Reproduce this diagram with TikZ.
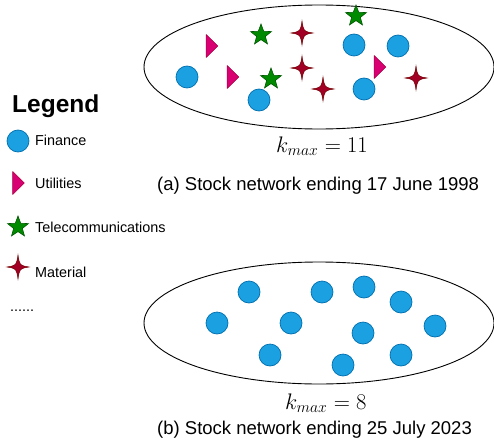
\RequirePackage{fix-cm}
\documentclass[tikz,border=0pt]{standalone}
\usepackage{fontspec}
\setmainfont{Liberation Sans}
\definecolor{finfill}{HTML}{1BA1E2}
\definecolor{finedge}{HTML}{006EAF}
\definecolor{utilfill}{HTML}{D80073}
\definecolor{utiledge}{HTML}{A50040}
\definecolor{telefill}{HTML}{008A00}
\definecolor{teleedge}{HTML}{005700}
\definecolor{matfill}{HTML}{A20025}
\definecolor{matedge}{HTML}{6F0000}
\begin{document}
\begin{tikzpicture}[x=1pt,y=-1pt,
  every node/.style={inner sep=0pt},
  capfont/.style={font=\fontsize{18.5}{22}\selectfont},
  legfont/.style={font=\fontsize{14.4}{17}\selectfont},
  mathfont/.style={font=\fontsize{22.5}{27}\selectfont},
  group/.style={draw=black,line width=0.9pt},
  fin/.pic={\filldraw[fill=finfill,draw=finedge,line width=0.7pt] (0pt,0pt) circle[radius=11pt];},
  util/.pic={\filldraw[fill=utilfill,draw=utiledge,line width=0.5pt,line join=round] (-5.8pt,11.5pt) -- (5.8pt,0pt) -- (-5.8pt,-11.5pt) -- cycle;},
  tele/.pic={\filldraw[fill=telefill,draw=teleedge,line width=0.6pt,line join=miter]
     (90:11pt) -- (126:4.6pt) -- (162:11pt) -- (198:4.6pt) -- (234:11pt) -- (270:4.6pt) -- (306:11pt) -- (342:4.6pt) -- (18:11pt) -- (54:4.6pt) -- cycle;},
  mat/.pic={\filldraw[fill=matfill,draw=matedge,line width=0.5pt]
     (0pt,12pt) .. controls (1.6pt,1.6pt) .. (11pt,0pt) .. controls (1.6pt,-1.6pt) .. (0pt,-12pt) .. controls (-1.6pt,-1.6pt) .. (-11pt,0pt) .. controls (-1.6pt,1.6pt) .. cycle;}
]
\useasboundingbox (0,0) rectangle (494,441);

% ---- top network ----
\draw[group] (319,67) ellipse [x radius=175pt, y radius=62pt];
\pic (a1) at (187,77) {fin};
\pic (a2) at (259,100) {fin};
\pic (a3) at (354,45) {fin};
\pic (a4) at (398,46) {fin};
\pic (a5) at (364,89) {fin};
\pic (u1) at (212,46) {util};
\pic (u2) at (233,77) {util};
\pic (u3) at (380,67) {util};
\pic (t1) at (261,35) {tele};
\pic (t2) at (356,16) {tele};
\pic (t3) at (271,79) {tele};
\pic (m1) at (302,33) {mat};
\pic (m2) at (302,68) {mat};
\pic (m3) at (323,89) {mat};
\pic (m4) at (416,78) {mat};
\node[mathfont,anchor=base west] (ka) at (276,152) {$k_{max}=11$};
\node[capfont,anchor=base west] (capa) at (157,190) {(a) Stock network ending 17 June 1998};

% ---- legend ----
\node[anchor=base west,font=\fontsize{24.5}{29}\selectfont\bfseries] (legend) at (12,112) {Legend};
\pic (lf) at (18,141) {fin};
\node[legfont,anchor=base west] (lft) at (35,145.5) {Finance};
\pic (lu) at (18.5,183) {util};
\node[legfont,anchor=base west] (lut) at (35,188) {Utilities};
\pic (lt) at (18,227) {tele};
\node[legfont,anchor=base west] (ltt) at (35,232) {Telecommunications};
\pic (lm) at (18,267) {mat};
\node[legfont,anchor=base west] (lmt) at (35,277) {Material};
\node[legfont,anchor=base west] (ldots) at (10,311) {......};

% ---- bottom network ----
\draw[group] (319,323) ellipse [x radius=175pt, y radius=61pt];
\pic (b1) at (249,292) {fin};
\pic (b2) at (322,292) {fin};
\pic (b3) at (364,287) {fin};
\pic (b4) at (401,302) {fin};
\pic (b5) at (217,323) {fin};
\pic (b6) at (291,323) {fin};
\pic (b7) at (363,333) {fin};
\pic (b8) at (435,326) {fin};
\pic (b9) at (270,355) {fin};
\pic (b10) at (343,365) {fin};
\pic (b11) at (401,355) {fin};
\node[mathfont,anchor=base west] (kb) at (285,409) {$k_{max}=8$};
\node[capfont,anchor=base west] (capb) at (157,434) {(b) Stock network ending 25 July 2023};
\end{tikzpicture}
\end{document}
